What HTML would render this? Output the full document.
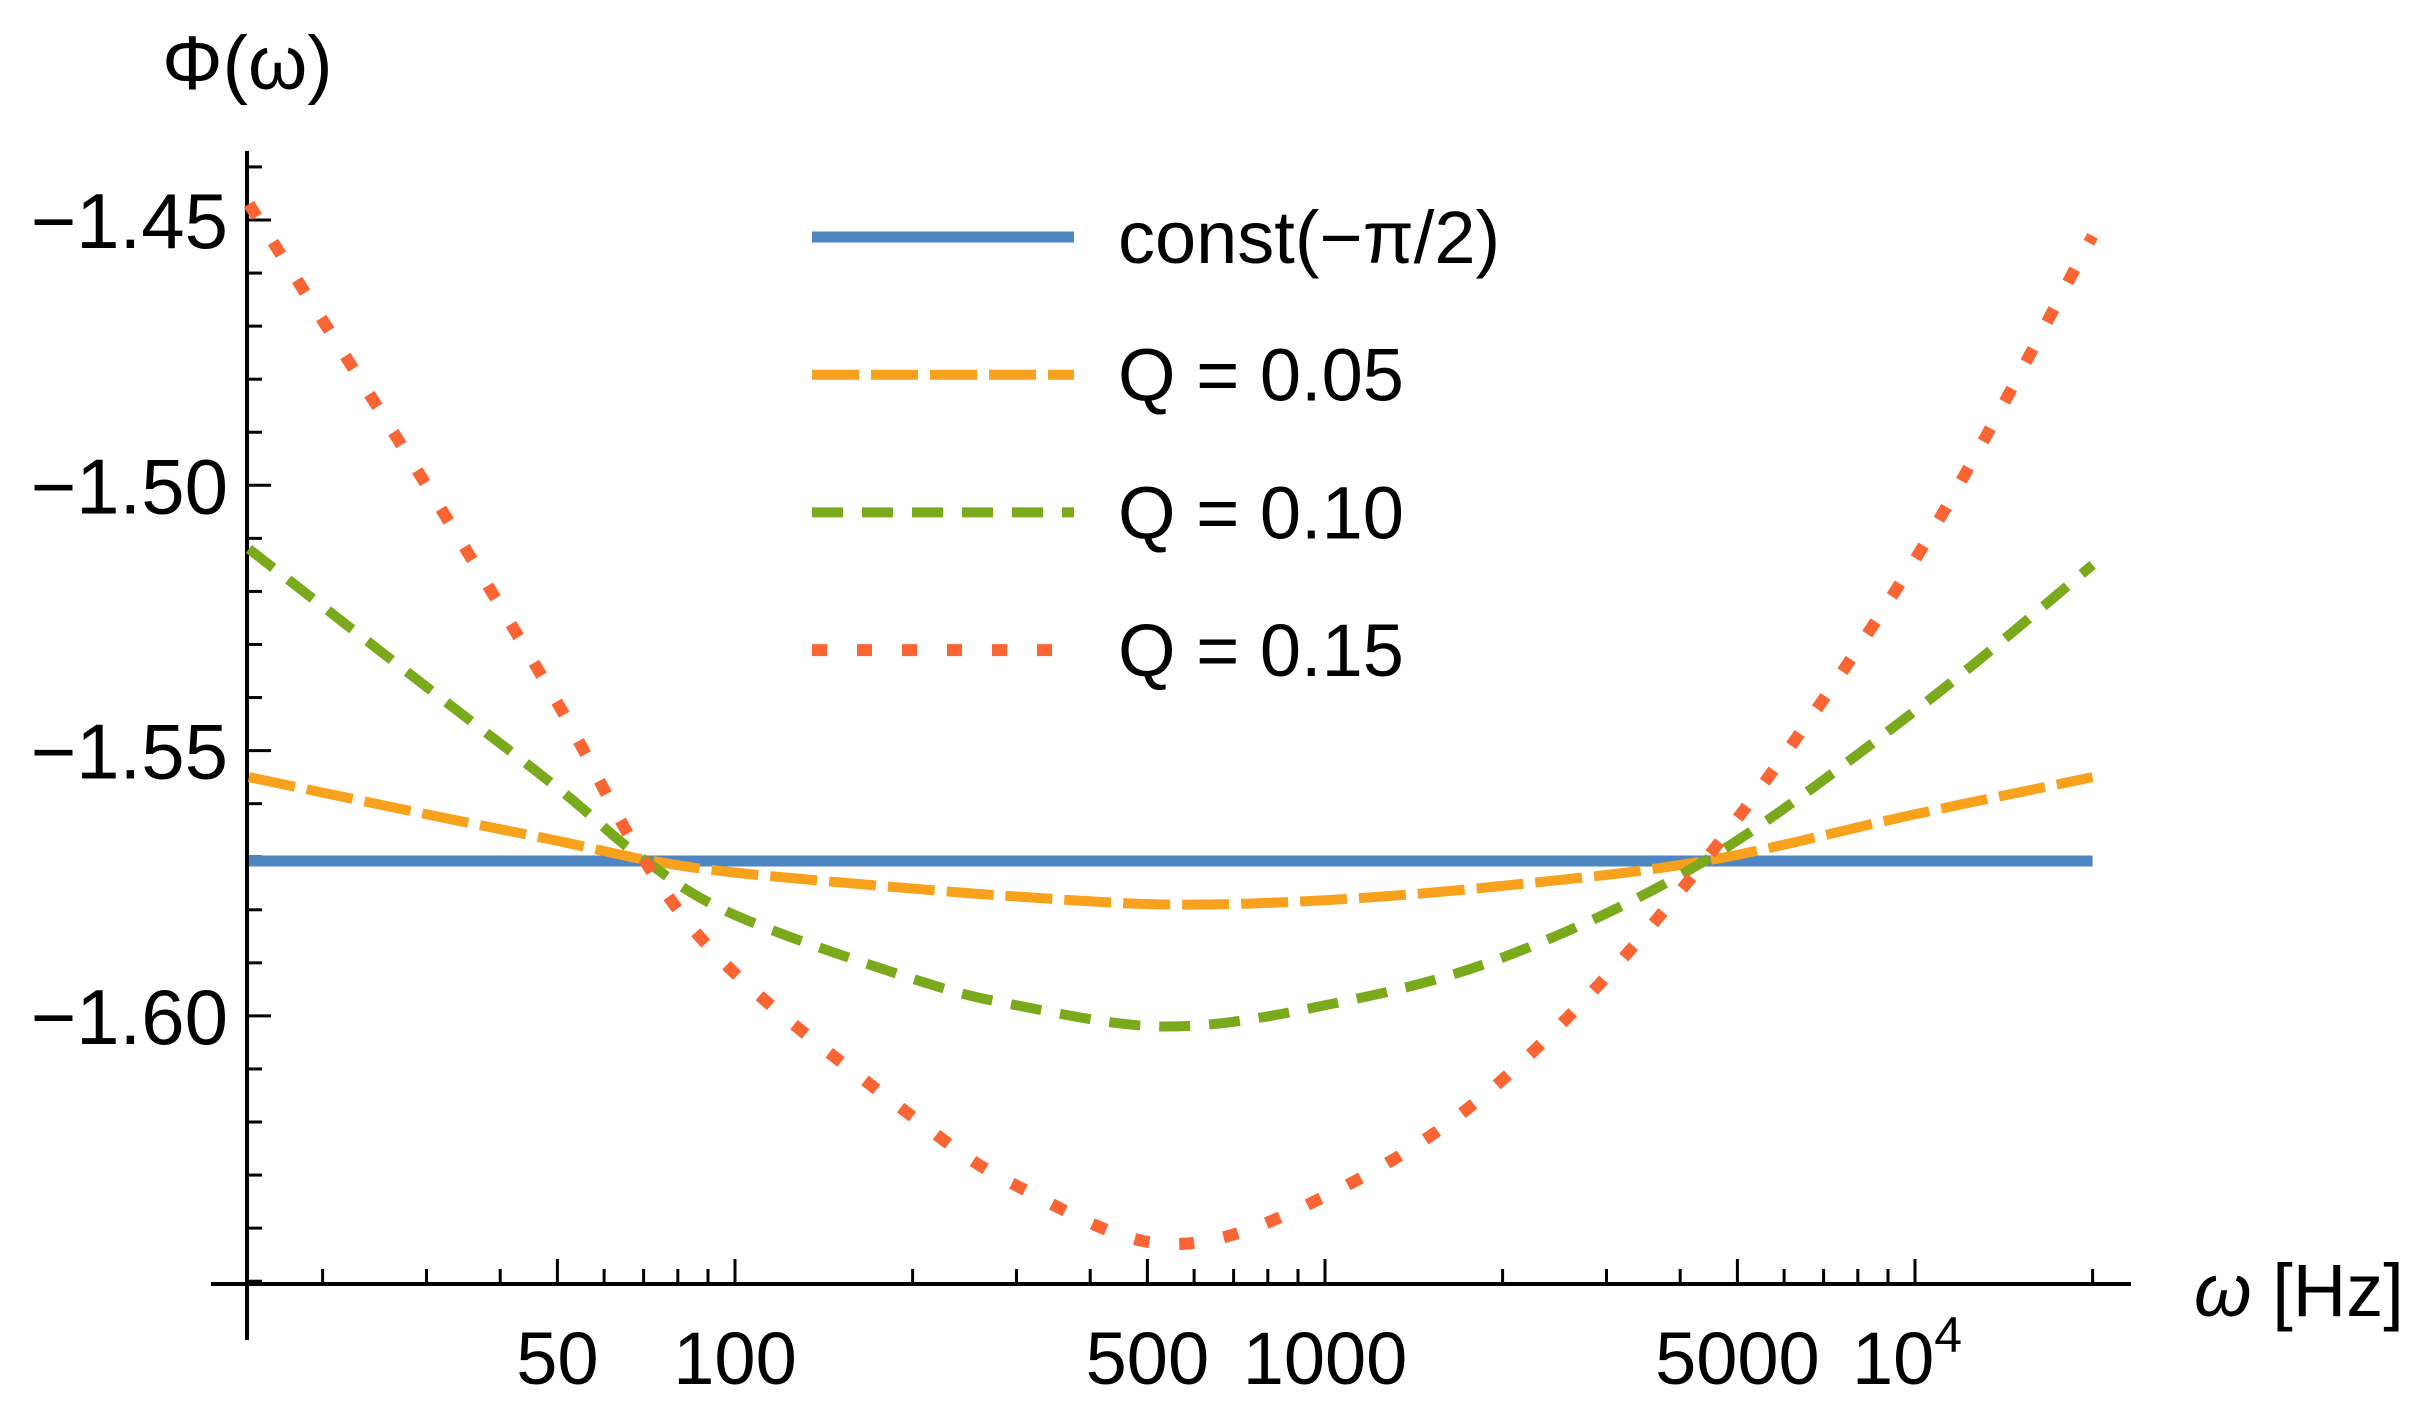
<!DOCTYPE html>
<html><head><meta charset="utf-8"><style>
html,body{margin:0;padding:0;background:#fff;}
svg{display:block;}
text{font-family:"Liberation Sans",sans-serif;fill:#000;}
</style></head><body>
<svg id="chart" width="2436" height="1416" xmlns="http://www.w3.org/2000/svg">
<g id="axes"></g>
<g id="series"></g>
<g id="legend"></g>
</svg>
<script>
const freqs = [15, 30, 50, 70, 100, 200, 300, 540, 1000, 2000, 4400, 10000, 20000];
const constVals = [-1.5708, -1.5708, -1.5708, -1.5708, -1.5708, -1.5708, -1.5708, -1.5708, -1.5708, -1.5708, -1.5708, -1.5708, -1.5708];
const q05Vals = [-1.555, -1.562, -1.567, -1.5705, -1.573, -1.576, -1.5775, -1.579, -1.5782, -1.5755, -1.5708, -1.562, -1.555];
const q10Vals = [-1.512, -1.538, -1.557, -1.5705, -1.581, -1.593, -1.598, -1.602, -1.598, -1.589, -1.5708, -1.5425, -1.515];
const q15Vals = [-1.447, -1.500, -1.541, -1.5705, -1.592, -1.619, -1.632, -1.643, -1.634, -1.612, -1.5708, -1.514, -1.453];
const yTicks = [-1.45, -1.50, -1.55, -1.60];
const yTickLabels = ["\u22121.45", "\u22121.50", "\u22121.55", "\u22121.60"];
const xMajor = [50, 100, 500, 1000, 5000, 10000];
const xMajorLabels = ["50", "100", "500", "1000", "5000", "10"];
const xMinor = [20, 30, 40, 60, 70, 80, 90, 200, 300, 400, 600, 700, 800, 900, 2000, 3000, 4000, 6000, 7000, 8000, 9000, 20000];
const legendLabels = ["const(\u2212\u03c0/2)", "Q = 0.05", "Q = 0.10", "Q = 0.15"];

const NS = "http://www.w3.org/2000/svg";
const XREF = 735, DEC = 590;
function xs(f){ return XREF + (Math.log10(f) - 2) * DEC; }
function ys(v){ return 220 + (-1.45 - v) / 0.05 * 265.3; }
function mk(tag, attrs, parent){ const e=document.createElementNS(NS,tag); for(const k in attrs) e.setAttribute(k,attrs[k]); parent.appendChild(e); return e; }
const axes=document.getElementById('axes'), series=document.getElementById('series'), legend=document.getElementById('legend');
const AXY = 1284, AXX = 247;

let a = mk('line',{x1:211,y1:AXY,x2:2131,y2:AXY,stroke:'#000','stroke-width':4},axes);


a = mk('line',{x1:AXX,y1:151,x2:AXX,y2:1340,stroke:'#000','stroke-width':4},axes);



for (let v=-1.44; v>=-1.651; v-=0.01){
  const vv=Math.round(v*100)/100;
  const major = yTicks.some(t=>Math.abs(t-vv)<1e-6);
  const t=mk('line',{x1:AXX,y1:ys(vv),x2:AXX+(major?24:15),y2:ys(vv),stroke:'#000','stroke-width':3},axes);
  
  
}
yTicks.forEach((v,i)=>{
  const t=mk('text',{x:228,y:ys(v)+28,'text-anchor':'end','font-size':78},axes);
  t.textContent=yTickLabels[i];
  
  
});
xMinor.forEach(f=>{
  const t=mk('line',{x1:xs(f),y1:AXY,x2:xs(f),y2:AXY-15,stroke:'#000','stroke-width':3},axes);
  
  
});
xMajor.forEach((f,i)=>{
  const t=mk('line',{x1:xs(f),y1:AXY,x2:xs(f),y2:AXY-25,stroke:'#000','stroke-width':3},axes);
  
  
  const l=mk('text',{x:xs(f)+(f===10000?-8:0),y:1384,'text-anchor':'middle','font-size':74},axes);
  l.textContent=xMajorLabels[i];
  if(f===10000){ const s=mk('tspan',{dy:-32,'font-size':50},l); s.textContent='4'; }
  
  
});
let tl=mk('text',{x:162,y:89,'font-size':76},axes);
tl.textContent='\u03a6(\u03c9)';


tl=mk('text',{x:2194,y:1316,'font-size':74},axes);
tl.innerHTML='<tspan font-style="italic">\u03c9</tspan> [Hz]';



function pathFor(vals){
  const p=freqs.map((f,i)=>[xs(f),ys(vals[i])]);
  let d='M'+p[0][0]+','+p[0][1];
  for(let i=0;i<p.length-1;i++){
    const p0=p[Math.max(0,i-1)],p1=p[i],p2=p[i+1],p3=p[Math.min(p.length-1,i+2)];
    const c1=[p1[0]+(p2[0]-p0[0])/6,p1[1]+(p2[1]-p0[1])/6];
    const c2=[p2[0]-(p3[0]-p1[0])/6,p2[1]-(p3[1]-p1[1])/6];
    d+=' C'+c1[0]+','+c1[1]+' '+c2[0]+','+c2[1]+' '+p2[0]+','+p2[1];
  }
  return d;
}
const styles=[
  {vals:constVals,color:'#4d86c2',w:11,dash:'',name:'series-const'},
  {vals:q05Vals,color:'#f8a11c',w:10,dash:'47 12',name:'series-q005'},
  {vals:q10Vals,color:'#7ba91c',w:10,dash:'31 19',name:'series-q010'},
  {vals:q15Vals,color:'#fb6534',w:12,dash:'15 30',name:'series-q015'}
];
styles.forEach((s,i)=>{
  const p=mk('path',{d:pathFor(s.vals),fill:'none',stroke:s.color,'stroke-width':s.w,'stroke-dasharray':s.dash},series);
  
  
  const ly=237+i*137.7;
  const ll=mk('line',{x1:812,y1:ly,x2:1074,y2:ly,stroke:s.color,'stroke-width':s.w,'stroke-dasharray':s.dash},legend);
  
  
  const lt=mk('text',{x:1118,y:ly+26,'font-size':74},legend);
  lt.textContent=legendLabels[i];
  
  
});
</script>
</body></html>
